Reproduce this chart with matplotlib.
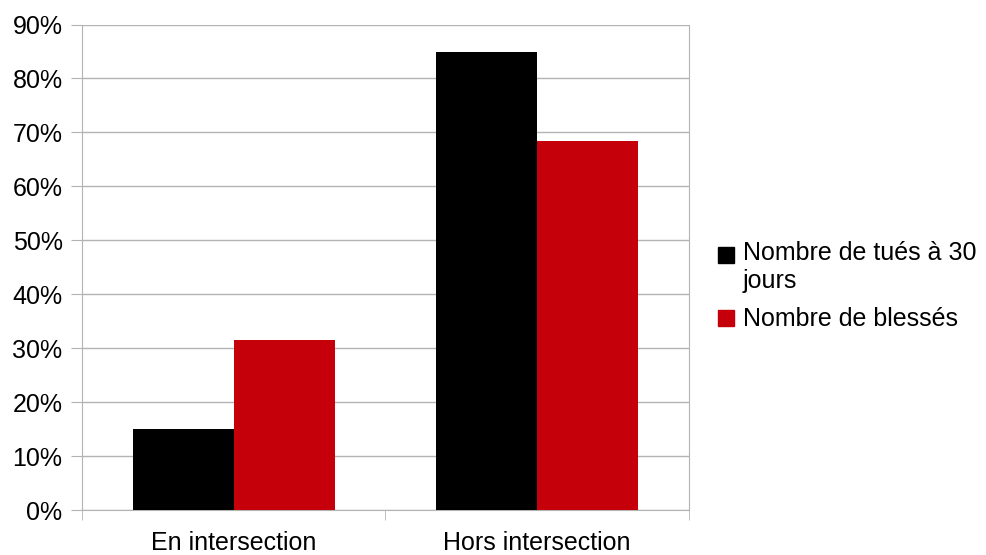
import matplotlib
matplotlib.use("Agg")
import matplotlib.pyplot as plt
import matplotlib.patches as mpatches
import numpy as np

plt.rcParams['font.family'] = ['Liberation Sans', 'DejaVu Sans']

categories = ['En intersection', 'Hors intersection']
tues = [15.1, 84.9]
blesses = [31.6, 68.4]
series_names = ['Nombre de tués à 30\njours', 'Nombre de blessés']
colors = ['#000000', '#c5000b']
yticks = list(range(0, 100, 10))
ytick_labels = ['%d%%' % v for v in yticks]

fs = 18
fig = plt.figure(figsize=(9.86, 5.55), dpi=100)
ax = fig.add_axes([82/986, 1-510/555, (689-82)/986, (510-24.5)/555])

x = np.arange(len(categories))
w = 1/3
ax.bar(x - w/2, tues, w, color=colors[0], zorder=3)
ax.bar(x + w/2, blesses, w, color=colors[1], zorder=3)

ax.set_xlim(-0.5, 1.5)
ax.set_ylim(0, 90)
ax.set_yticks(yticks)
ax.set_yticklabels(ytick_labels, fontsize=fs)
ax.set_xticks(x)
ax.set_xticklabels(categories, fontsize=fs)
ax.set_xticks([-0.5, 0.5, 1.5], minor=True)
ax.tick_params(axis='x', which='major', length=0, pad=15)
ax.tick_params(axis='x', which='minor', length=7, color='#b3b3b3')
ax.tick_params(axis='y', length=8, color='#b3b3b3', pad=6)
ax.grid(axis='y', color='#b3b3b3', linewidth=1, zorder=0)
for side in ['left', 'right', 'bottom']:
    ax.spines[side].set_color('#b3b3b3')
ax.spines['top'].set_visible(False)

# legend
sq = 16
lines1 = series_names[0].split('\n')
for yb, col in [(247, colors[0]), (310, colors[1])]:
    fig.patches.append(mpatches.Rectangle((718/986, 1-(yb+sq)/555), sq/986, sq/555,
                                          transform=fig.transFigure, color=col))
fig.text(743/986, 1-260/555, lines1[0], fontsize=fs, va='baseline')
fig.text(743/986, 1-288/555, lines1[1], fontsize=fs, va='baseline')
fig.text(743/986, 1-326/555, series_names[1], fontsize=fs, va='baseline')

fig.savefig('out.png', dpi=100)
